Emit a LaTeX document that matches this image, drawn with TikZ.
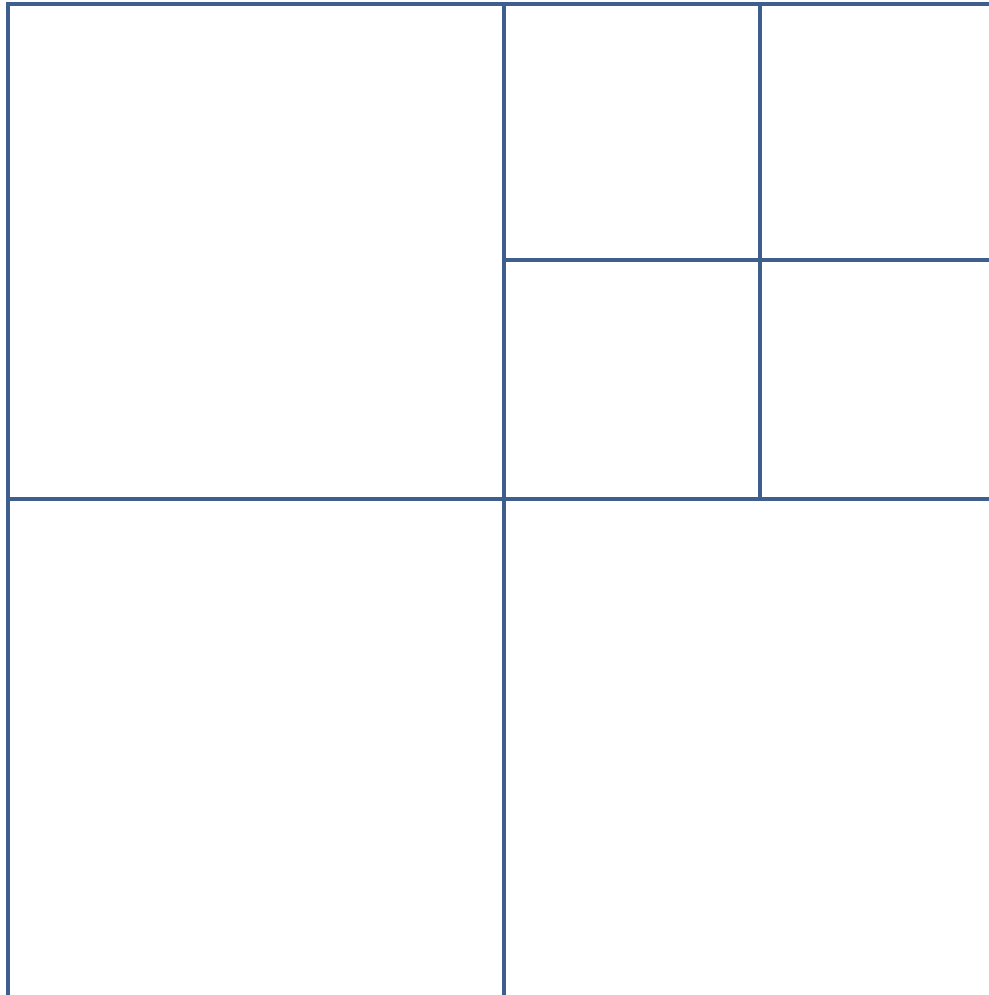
\documentclass[tikz,border=0pt]{standalone}
\definecolor{gridblue}{HTML}{3E5F8E}
\tikzset{cell/.style={draw=gridblue, line width=2pt}}
\begin{document}
\begin{tikzpicture}[x=0.02cm, y=-0.02cm]
    \useasboundingbox (0,0) rectangle (989,995);
    % outer frame (right and bottom lie outside the page)
    \draw[cell] (8,997) -- (8,4) -- (1000,4);
    \draw[cell, gridblue!40] (8,997) -- (989,997);
    
    % first split
    \draw[cell] (504,4) -- (504,995);
    \draw[cell] (8,499) -- (1000,499);
    
    % top right quadrant split again
    \draw[cell] (760,4) -- (760,499);
    \draw[cell] (504,260) -- (1000,260);
\end{tikzpicture}
\end{document}
